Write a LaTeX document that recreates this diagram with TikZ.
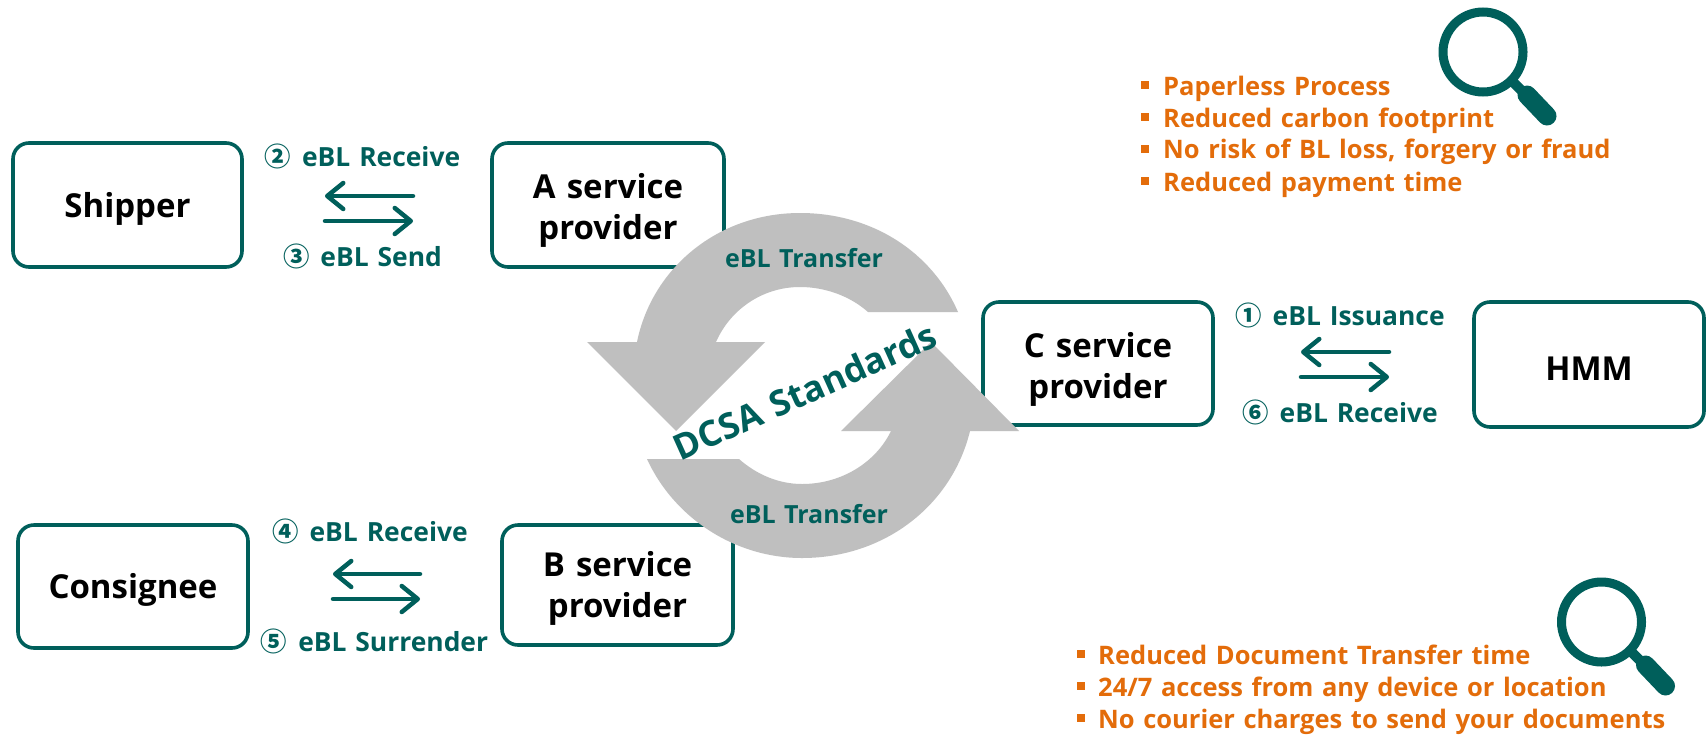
\documentclass[tikz,border=0pt]{standalone}
\usepackage{fontspec}
\setmainfont{Open Sans}[BoldFont={Open Sans Bold},WordSpace=1.3]
\newfontfamily\circfont{Noto Sans CJK KR}
\usetikzlibrary{arrows.meta}
\definecolor{teal}{HTML}{005F5B}
\definecolor{greyarrow}{HTML}{BFBFBF}
\definecolor{orangetxt}{HTML}{E36C0A}
\newcommand{\cn}[1]{{\circfont #1}\hspace{2pt}}
\newcommand{\dn}{\rule{0pt}{36pt}}
\newcommand{\dnb}{\rule{0pt}{32pt}}
\tikzset{
  party/.style={draw=teal,line width=3.6pt,rounded corners=16pt,fill=white,align=center,font=\fontsize{33}{41}\selectfont\bfseries,text=black,inner sep=0pt},
  flowlabel/.style={text=teal,font=\fontsize{26.4}{30}\selectfont\bfseries,inner sep=0pt},
  bullettxt/.style={text=orangetxt,font=\fontsize{25.5}{30}\selectfont\bfseries,inner sep=0pt,anchor=base west},
  bulletmark/.style={fill=orangetxt,minimum size=8pt,inner sep=0pt},
  flow/.style={draw=teal,line width=4.5pt,line cap=round,-{Straight Barb[round,length=16pt,width=26pt,line width=4.5pt]}},
  turn/.style={fill=greyarrow,draw=none},
  mag/.pic={
    \draw[teal,line width=9pt] (0,0) circle (40);
    \draw[teal,line width=10pt] (30,30) -- (48,48);
    \draw[teal,line width=19pt,line cap=round] (44,43) -- (64,64);
  }
}
\begin{document}
\begin{tikzpicture}[x=1pt,y=-1pt]
\useasboundingbox (0,0) rectangle (1707,734);
\fill[white] (0,0) rectangle (1707,734);
% boxes
\node[party,minimum width=229pt,minimum height=124pt] (ship) at (127.5,205) {\dnb Shipper};
\node[party,minimum width=232pt,minimum height=124pt] (aprov) at (608,205) {\dn A service\\provider};
\node[party,minimum width=230pt,minimum height=123pt] (cprov) at (1098,363.5) {\dn C service\\provider};
\node[party,minimum width=230pt,minimum height=125pt] (hmm) at (1589,364.5) {\dnb HMM};
\node[party,minimum width=230pt,minimum height=123pt] (cons) at (133,586.5) {\dnb Consignee};
\node[party,minimum width=231pt,minimum height=120pt] (bprov) at (617.5,585) {\dnb B service\\provider};
% circular arrows
\path[turn] (958,312) .. controls (932,252) and (872,213) .. (800,213)
  .. controls (718,213) and (652,268) .. (637,342) -- (587,342) -- (676,431) -- (765,342) -- (716,342)
  .. controls (730,310) and (762,287) .. (800,287) .. controls (825,287) and (850,296) .. (868,312) -- cycle;
\path[turn] (647,459) .. controls (674,518) and (735,558) .. (802,558)
  .. controls (885,558) and (952,505) .. (970,431) -- (1019,431) -- (931,342) -- (841,431) -- (891,431)
  .. controls (876,462) and (842,484) .. (802,484) .. controls (778,484) and (756,474) .. (739,459) -- cycle;
% flow arrows
\coordinate (a1l) at (325,196); \coordinate (a1r) at (413,196);
\coordinate (a2l) at (325,221); \coordinate (a2r) at (413,221);
\draw[flow] (a1r) -- (a1l);
\draw[flow] (a2l) -- (a2r);
\coordinate (b1l) at (1301,352); \coordinate (b1r) at (1389,352);
\coordinate (b2l) at (1301,377); \coordinate (b2r) at (1389,377);
\draw[flow] (b1r) -- (b1l);
\draw[flow] (b2l) -- (b2r);
\coordinate (c1l) at (333,574); \coordinate (c1r) at (420,574);
\coordinate (c2l) at (333,599); \coordinate (c2r) at (420,599);
\draw[flow] (c1r) -- (c1l);
\draw[flow] (c2l) -- (c2r);
% labels
\node[flowlabel] (l2) at (362.5,156) {\cn{②} eBL Receive};
\node[flowlabel] (l3) at (362.5,256) {\cn{③} eBL Send};
\node[flowlabel] (l1) at (1340,315) {\cn{①} eBL Issuance};
\node[flowlabel] (l6) at (1340,412) {\cn{⑥} eBL Receive};
\node[flowlabel] (l4) at (370,531) {\cn{④} eBL Receive};
\node[flowlabel] (l5) at (374.5,641) {\cn{⑤} eBL Surrender};
\node[flowlabel,font=\fontsize{25}{28}\selectfont\bfseries] (t1) at (804,258) {eBL Transfer};
\node[flowlabel,font=\fontsize{25}{28}\selectfont\bfseries] (t2) at (809,514) {eBL Transfer};
\node[flowlabel,font=\fontsize{35.5}{40}\selectfont\bfseries,rotate=24.2] (dcsa) at (805,391) {DCSA Standards};
% benefit lists
\foreach \nm/\yy/\by/\tx in {p1/95/85/Paperless Process,p2/127/117/Reduced carbon footprint,p3/158/149/{No risk of BL loss, forgery or fraud},p4/191/181/Reduced payment time}{
  \node[bulletmark] (\nm b) at (1145,\by) {};
  \node[bullettxt] (\nm) at (1163,\yy) {\tx};
}
\foreach \nm/\yy/\by/\tx in {q1/664/654/Reduced Document Transfer time,q2/696/686/{24/7 access from any device or location},q3/728/718/No courier charges to send your documents}{
  \node[bulletmark] (\nm b) at (1081,\by) {};
  \node[bullettxt] (\nm) at (1098,\yy) {\tx};
}
% magnifiers
\pic at (1483,52) {mag};
\pic at (1601.5,622) {mag};
\end{tikzpicture}
\end{document}
